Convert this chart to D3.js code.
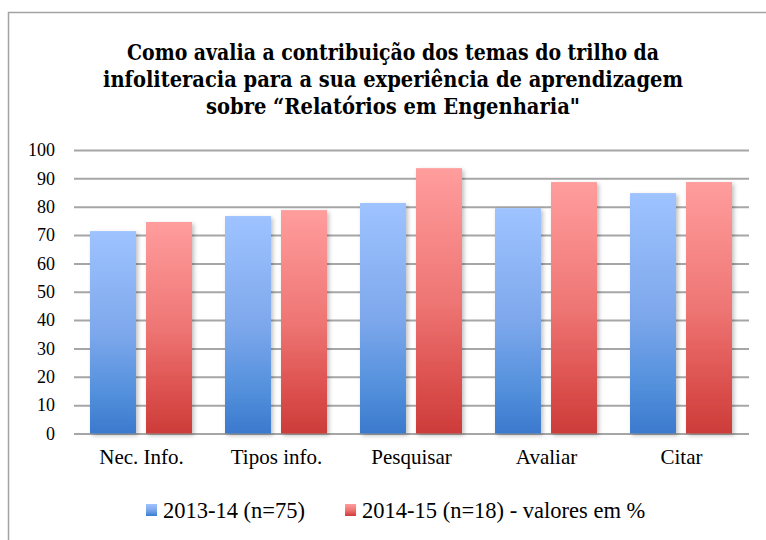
<!DOCTYPE html>
<html lang="pt">
<head>
<meta charset="utf-8">
<title>Relatórios em Engenharia</title>
<script src="https://d3js.org/d3.v7.min.js"></script>
<style>
  body { margin: 0; background: #fff; }
  text { font-family: "Liberation Serif", "Times New Roman", serif; fill: #000; }
  .title { font-family: "DejaVu Serif Condensed", "DejaVu Serif", serif; }
</style>
</head>
<body>
<script>
// data
var categories = ["Nec. Info.", "Tipos info.", "Pesquisar", "Avaliar", "Citar"];
var seriesNames = ["2013-14 (n=75)", "2014-15 (n=18) - valores em %"];
var values2013 = [71.4, 76.7, 81.3, 79.5, 84.8];
var values2014 = [74.6, 78.8, 93.6, 88.7, 88.7];
var yTicks = [0, 10, 20, 30, 40, 50, 60, 70, 80, 90, 100];
var titleLines = [
  "Como avalia a contribuição dos temas do trilho da",
  "infoliteracia para a sua experiência de aprendizagem",
  "sobre “Relatórios em Engenharia\""
];
var titleWidths = [532, 580, 374];

var w = 766, h = 540;
var margin = {left: 74, right: 17, top: 150, bottom: 106.5};

var svg = d3.select("body").append("svg").attr("width", w).attr("height", h);
var defs = svg.append("defs");

// gradients for the two series
function grad(id, stops) {
  var g = defs.append("linearGradient").attr("id", id)
    .attr("x1", 0).attr("y1", 0).attr("x2", 0).attr("y2", 1);
  stops.forEach(function(s) {
    g.append("stop").attr("offset", s[0]).attr("stop-color", s[1]);
  });
}
grad("gBlue", [[0, "#9ec3ff"], [0.5, "#7ea8ec"], [0.8, "#5390dc"], [1, "#3b79cd"]]);
grad("gRed", [[0, "#ff9d9d"], [0.5, "#ee7674"], [0.8, "#dc514f"], [1, "#cc3c39"]]);
var fills = ["url(#gBlue)", "url(#gRed)"];

var shadow = defs.append("filter").attr("id", "shadow")
  .attr("x", "-20%").attr("y", "-5%").attr("width", "150%").attr("height", "115%");
shadow.append("feDropShadow").attr("dx", 2).attr("dy", 2)
  .attr("stdDeviation", 2).attr("flood-color", "#000").attr("flood-opacity", 0.25);

// chart frame
svg.append("rect").attr("x", 8.5).attr("y", 12.5).attr("width", 800).attr("height", 600)
  .attr("fill", "#fff").attr("stroke", "#a3a3a3").attr("stroke-width", 1.5);

// title
svg.append("g").selectAll("text").data(titleLines).enter().append("text")
  .attr("class", "title")
  .attr("x", 393)
  .attr("y", function(d, i) { return 60 + i * 26.8; })
  .attr("text-anchor", "middle")
  .attr("font-size", 22.5)
  .attr("font-weight", "bold")
  .attr("fill", "#111")
  .attr("textLength", function(d, i) { return titleWidths[i]; })
  .attr("lengthAdjust", "spacingAndGlyphs")
  .text(function(d) { return d; });

// scales
var x0 = d3.scaleBand().domain(categories).range([margin.left, w - margin.right]);
var x1 = d3.scaleBand().domain([0, 1]).range([16, 118]).paddingInner(0.179);
var y = d3.scaleLinear().domain([0, 100]).range([h - margin.bottom, margin.top]);

// gridlines + y labels
var yAxis = d3.axisLeft(y).tickValues(yTicks).tickSize(-(w - margin.left - margin.right)).tickPadding(19);
var gy = svg.append("g").attr("transform", "translate(" + margin.left + ",0)").call(yAxis);
gy.attr("font-family", null);
gy.select(".domain").remove();
gy.selectAll(".tick line").attr("stroke", "#a6a6a6").attr("stroke-width", 2);
gy.selectAll(".tick text").attr("font-size", 18).attr("fill", "#000");

// bars
var rows = categories.map(function(c, i) { return {cat: c, vals: [values2013[i], values2014[i]]}; });
var groups = svg.append("g").selectAll("g").data(rows).enter().append("g")
  .attr("transform", function(d) { return "translate(" + x0(d.cat) + ",0)"; });
groups.selectAll("rect").data(function(d) { return d.vals.map(function(v, k) { return {k: k, v: v}; }); })
  .enter().append("rect")
  .attr("x", function(d) { return x1(d.k); })
  .attr("width", x1.bandwidth())
  .attr("y", function(d) { return y(d.v); })
  .attr("height", function(d) { return y(0) - y(d.v); })
  .attr("fill", function(d) { return fills[d.k]; })
  .attr("filter", "url(#shadow)");

// x labels
var xAxis = d3.axisBottom(x0).tickSize(0).tickPadding(16);
var gx = svg.append("g").attr("transform", "translate(0," + y(0) + ")").call(xAxis);
gx.attr("font-family", null);
gx.select(".domain").remove();
gx.selectAll(".tick text").attr("font-size", 21).attr("fill", "#000");

// legend
var legend = svg.append("g");
var lx = 146;
seriesNames.forEach(function(name, k) {
  legend.append("rect").attr("x", lx).attr("y", 504).attr("width", 11).attr("height", 12)
    .attr("fill", fills[k]);
  var t = legend.append("text").attr("x", lx + 17).attr("y", 517.5)
    .attr("font-size", 22.5).text(name);
  lx += 17 + t.node().getComputedTextLength() + 40;
});
</script>
</body>
</html>
